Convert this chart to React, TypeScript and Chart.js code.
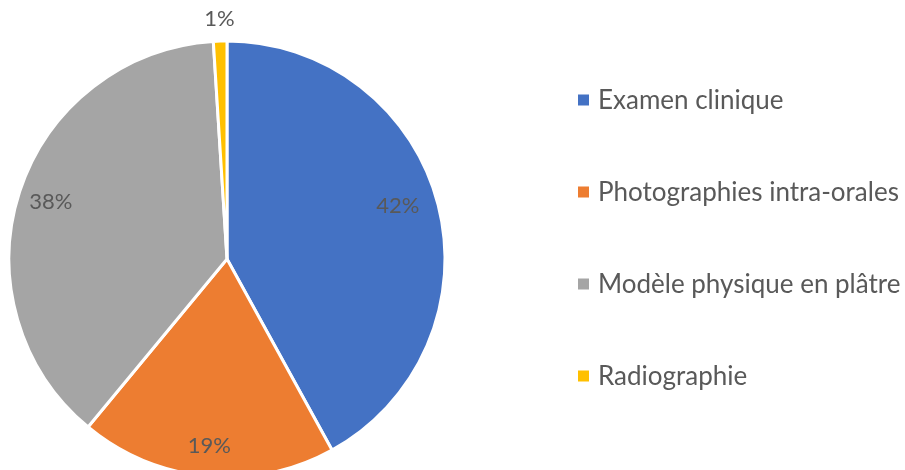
import React, { useEffect, useRef } from "react";
import { Chart, registerables } from "chart.js";

Chart.register(...registerables);

const categories = [
  "Examen clinique",
  "Photographies intra-orales",
  "Modèle physique en plâtre",
  "Radiographie",
];
const values = [42, 19, 38, 1];
const valueLabels = ["42%", "19%", "38%", "1%"];
const colors = ["#4472C4", "#ED7D31", "#A5A5A5", "#FFC000"];
const labelRadiusFactors = [0.82, 0.86, 0.85, 1.1];
const labelAngleShift = [-0.05, 0, 0, 0];

const FONT = "Lato, 'Open Sans', sans-serif";
const TEXT_COLOR = "#595959";

const overlayPlugin = {
  id: "overlay",
  afterDatasetsDraw(chart: any) {
    const ctx = chart.ctx;
    const meta = chart.getDatasetMeta(0);
    ctx.save();
    // data labels
    ctx.font = `22px ${FONT}`;
    ctx.fillStyle = TEXT_COLOR;
    ctx.textAlign = "center";
    ctx.textBaseline = "middle";
    meta.data.forEach((arc: any, i: number) => {
      const p = arc.getProps(["x", "y", "startAngle", "endAngle", "outerRadius"], true);
      const mid = (p.startAngle + p.endAngle) / 2 + labelAngleShift[i];
      const r = p.outerRadius * labelRadiusFactors[i];
      ctx.fillText(valueLabels[i], p.x + Math.cos(mid) * r, p.y + Math.sin(mid) * r);
    });
    // legend
    const lx = 578;
    const top = 100;
    const step = 92;
    ctx.font = `26px ${FONT}`;
    ctx.textAlign = "left";
    categories.forEach((c, i) => {
      const cy = top + i * step;
      ctx.fillStyle = colors[i];
      ctx.fillRect(lx, cy - 5.5, 11, 11);
      ctx.fillStyle = TEXT_COLOR;
      ctx.fillText(c, lx + 20, cy + 1);
    });
    ctx.restore();
  },
};

export default function App() {
  const ref = useRef<HTMLCanvasElement | null>(null);
  useEffect(() => {
    document.body.style.margin = "0";
    const chart = new Chart(ref.current as HTMLCanvasElement, {
      type: "pie",
      data: {
        labels: categories,
        datasets: [
          {
            data: values,
            backgroundColor: colors,
            borderColor: "#ffffff",
            borderWidth: 3,
            radius: 218,
            clip: false as any,
          } as any,
        ],
      },
      options: {
        responsive: false,
        animation: false,
        layout: { padding: { left: 10, right: 461, top: 48, bottom: 0 } },
        plugins: {
          legend: { display: false },
          tooltip: { enabled: false },
        },
      },
      plugins: [overlayPlugin],
    });
    return () => chart.destroy();
  }, []);
  return (
    <div style={{ width: 905, height: 470, background: "#fff", overflow: "hidden" }}>
      <canvas ref={ref} width={905} height={470} />
    </div>
  );
}
